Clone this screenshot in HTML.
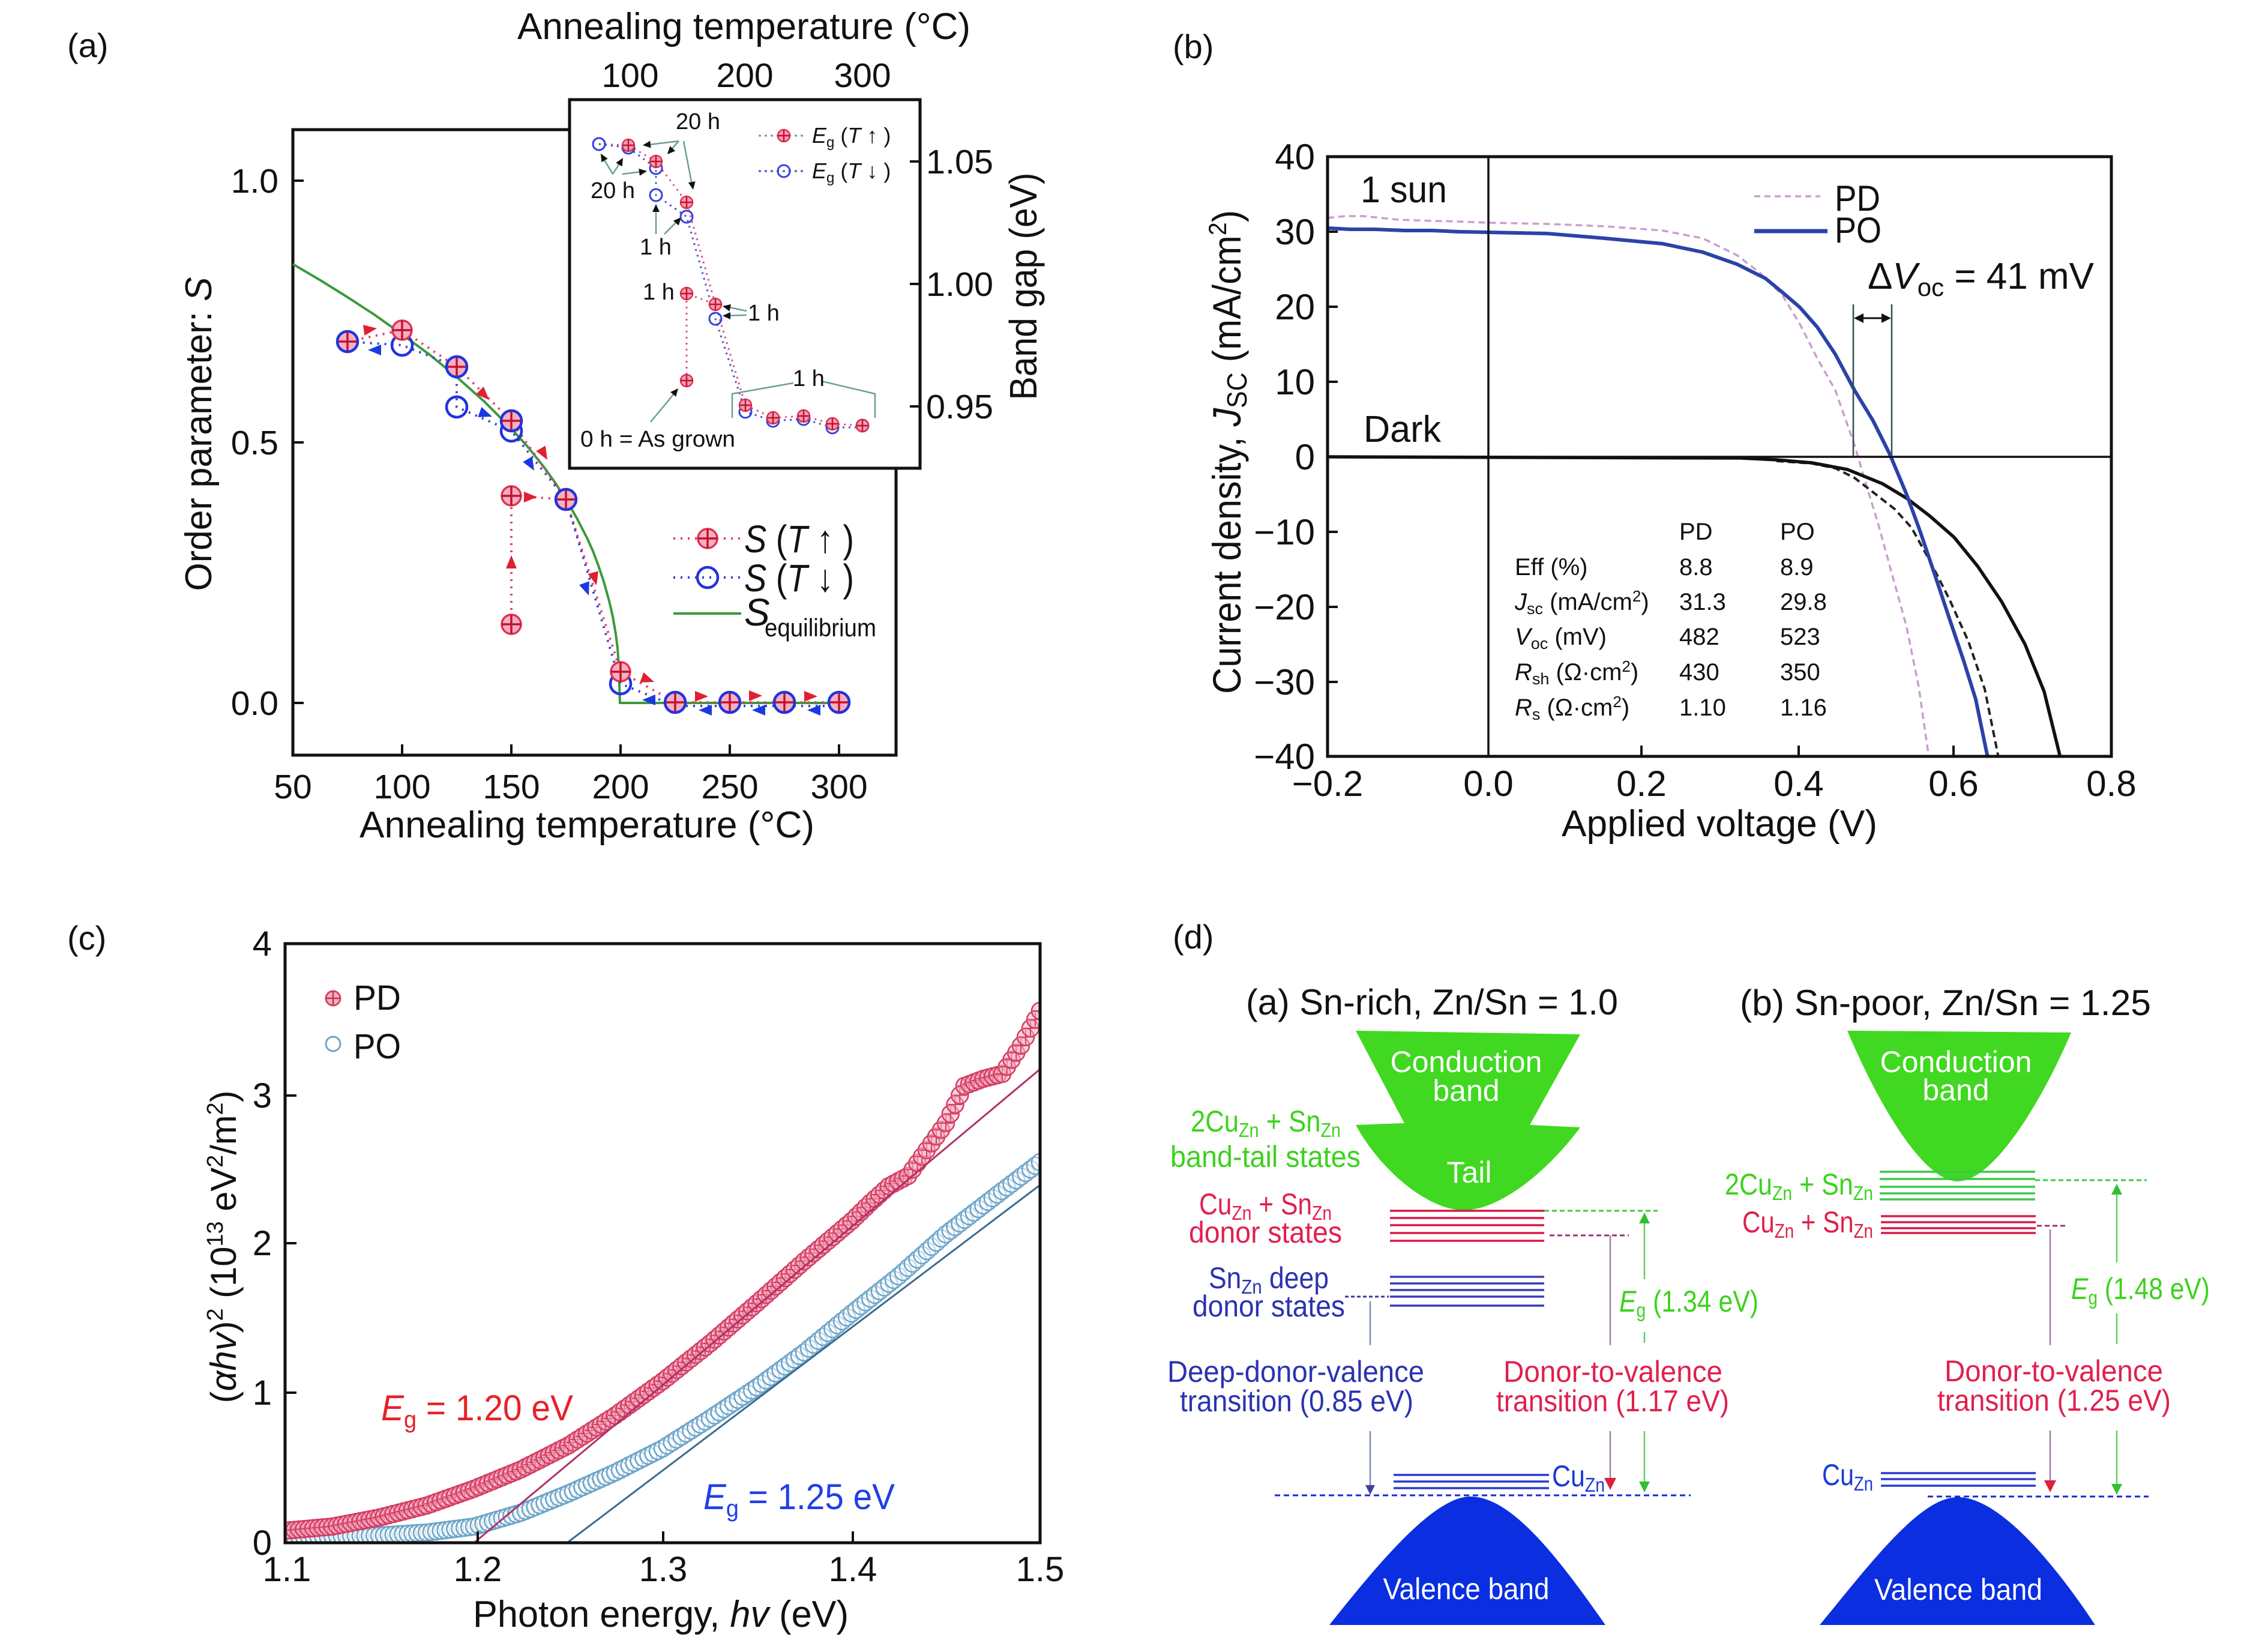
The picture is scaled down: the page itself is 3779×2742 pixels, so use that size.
<!DOCTYPE html>
<html><head><meta charset="utf-8"><style>
html,body{margin:0;padding:0;background:#fff}
svg{display:block}
text{font-family:"Liberation Sans",Arial,sans-serif;fill:#111}
.i{font-style:italic}
</style></head><body>
<svg xmlns="http://www.w3.org/2000/svg" width="3779" height="2742" viewBox="0 0 3779 2742">
<defs>
<g id="pr"><circle r="16" fill="#f5b0c0" stroke="#e03052" stroke-width="3.5"/><path d="M-16,0H16M0,-16V16" stroke="#c4102e" stroke-width="3.5"/></g>
<g id="pb"><circle r="17" fill="#f5b0c0" stroke="#2233dd" stroke-width="4.5"/><path d="M-15,0H15M0,-15V15" stroke="#c4102e" stroke-width="3.5"/></g>
<g id="bo"><circle r="17" fill="none" stroke="#2233dd" stroke-width="4.5"/></g>
<g id="prs"><circle r="10" fill="#f2a0b4" stroke="#e03052" stroke-width="2.5"/><path d="M-10,0H10M0,-10V10" stroke="#c4102e" stroke-width="2.5"/></g>
<g id="bos"><circle r="10" fill="none" stroke="#3344dd" stroke-width="3"/></g>
<path id="ar" d="M0,0 L-22,-9 L-22,9 Z"/>
<path id="sa" d="M0,0 L-13,-6 L-13,6 Z"/>
<marker id="mpd" markerUnits="userSpaceOnUse" markerWidth="34" markerHeight="34" refX="17" refY="17" overflow="visible"><circle cx="17" cy="17" r="14" fill="#f4b4c4" fill-opacity="0.55" stroke="#d43c62" stroke-width="2.5"/><path d="M5,17H29M17,5V29" stroke="#d43c62" stroke-width="2"/></marker>
<marker id="mpo" markerUnits="userSpaceOnUse" markerWidth="34" markerHeight="34" refX="17" refY="17" overflow="visible"><circle cx="17" cy="17" r="14" fill="#ffffff" fill-opacity="0.35" stroke="#6aa4c8" stroke-width="2.5"/></marker>
<clipPath id="cc"><rect x="475" y="1572" width="1258" height="998"/></clipPath>
<clipPath id="cb"><rect x="2212" y="261" width="1306" height="999"/></clipPath>
</defs>

<!-- ================= PANEL (a) ================= -->
<text x="112" y="95" font-size="56">(a)</text>
<text x="862" y="65" font-size="62" textLength="755" lengthAdjust="spacingAndGlyphs">Annealing temperature (°C)</text>
<text x="1050" y="145" font-size="57" text-anchor="middle">100</text>
<text x="1241" y="145" font-size="57" text-anchor="middle">200</text>
<text x="1437" y="145" font-size="57" text-anchor="middle">300</text>

<rect x="488" y="216" width="1005" height="1042" fill="none" stroke="#111" stroke-width="5"/>
<path d="M670,1258V1240M852,1258V1240M1034,1258V1240M1216,1258V1240M1398,1258V1240M488,301H506M488,737H506M488,1171H506" stroke="#111" stroke-width="4"/>
<text x="464" y="321" font-size="57" text-anchor="end">1.0</text>
<text x="464" y="757" font-size="57" text-anchor="end">0.5</text>
<text x="464" y="1191" font-size="57" text-anchor="end">0.0</text>
<g font-size="57" text-anchor="middle">
<text x="488" y="1330">50</text><text x="670" y="1330">100</text><text x="852" y="1330">150</text>
<text x="1034" y="1330">200</text><text x="1216" y="1330">250</text><text x="1398" y="1330">300</text>
</g>
<text x="599" y="1395" font-size="62" textLength="758" lengthAdjust="spacingAndGlyphs">Annealing temperature (°C)</text>
<text transform="translate(352,723) rotate(-90)" text-anchor="middle" font-size="62" textLength="523" lengthAdjust="spacingAndGlyphs">Order parameter: <tspan class="i">S</tspan></text>

<polyline points="488,440 534,467 579,495 625,525 670,557 716,591 761,628 807,669 852,714 880,745 907,779 925,804 943,832 961,863 979,898 988,918 997,942 1006,969 1015,1001 1021,1027 1026,1056 1029,1080 1031,1110 1033,1171 1398,1171" fill="none" stroke="#3a9a3a" stroke-width="4"/>

<polyline points="579,569 670,550 761,611 852,701 943,832 1034,1119 1125,1170 1398,1170" fill="none" stroke="#e04070" stroke-width="4" stroke-dasharray="3 9"/>
<polyline points="852,1040 852,826 943,832" fill="none" stroke="#e04070" stroke-width="4" stroke-dasharray="3 9"/>
<polyline points="1398,1176 1125,1176 1034,1139 943,832 852,718 761,678 761,611 670,575 579,569" fill="none" stroke="#3344cc" stroke-width="4" stroke-dasharray="3 9"/>

<g fill="#e02030">
<use href="#ar" transform="translate(628,547) rotate(-8)"/>
<use href="#ar" transform="translate(815,666) rotate(45)"/>
<use href="#ar" transform="translate(912,766) rotate(60)"/>
<use href="#ar" transform="translate(852,925) rotate(-90)"/>
<use href="#ar" transform="translate(895,828) rotate(0)"/>
<use href="#ar" transform="translate(994,975) rotate(75)"/>
<use href="#ar" transform="translate(1090,1136) rotate(20)"/>
<use href="#ar" transform="translate(1180,1160)"/>
<use href="#ar" transform="translate(1270,1159)"/>
<use href="#ar" transform="translate(1362,1160)"/>
</g>
<g fill="#1a3ae0">
<use href="#ar" transform="translate(613,583) rotate(180)"/>
<use href="#ar" transform="translate(820,694) rotate(20)"/>
<use href="#ar" transform="translate(890,784) rotate(60)"/>
<use href="#ar" transform="translate(981,992) rotate(70)"/>
<use href="#ar" transform="translate(1070,1166) rotate(180)"/>
<use href="#ar" transform="translate(1164,1183) rotate(180)"/>
<use href="#ar" transform="translate(1253,1183) rotate(180)"/>
<use href="#ar" transform="translate(1345,1183) rotate(180)"/>
</g>

<use href="#bo" x="670" y="575"/>
<use href="#bo" x="761" y="678"/>
<use href="#bo" x="852" y="718"/>
<use href="#bo" x="1034" y="1139"/>
<use href="#pb" x="579" y="569"/>
<use href="#pr" x="670" y="550"/>
<use href="#pb" x="761" y="611"/>
<use href="#pb" x="852" y="701"/>
<use href="#pr" x="852" y="826"/>
<use href="#pr" x="852" y="1040"/>
<use href="#pb" x="943" y="832"/>
<use href="#pr" x="1034" y="1119"/>
<use href="#pb" x="1125" y="1170"/>
<use href="#pb" x="1216" y="1170"/>
<use href="#pb" x="1307" y="1170"/>
<use href="#pb" x="1398" y="1170"/>

<line x1="1122" y1="897" x2="1235" y2="897" stroke="#e04070" stroke-width="4" stroke-dasharray="3 9"/>
<use href="#pr" x="1179" y="897"/>
<text x="1240" y="920" font-size="64" textLength="183" lengthAdjust="spacingAndGlyphs"><tspan class="i">S</tspan> (<tspan class="i">T</tspan> ↑ )</text>
<line x1="1122" y1="962" x2="1235" y2="962" stroke="#3344cc" stroke-width="4" stroke-dasharray="3 9"/>
<use href="#bo" x="1179" y="962"/>
<text x="1240" y="985" font-size="64" textLength="183" lengthAdjust="spacingAndGlyphs"><tspan class="i">S</tspan> (<tspan class="i">T</tspan> ↓ )</text>
<line x1="1122" y1="1022" x2="1235" y2="1022" stroke="#3a9a3a" stroke-width="4"/>
<text x="1240" y="1042" font-size="64" class="i">S</text>
<text x="1274" y="1060" font-size="42" textLength="186" lengthAdjust="spacingAndGlyphs">equilibrium</text>

<rect x="949" y="166" width="584" height="614" fill="#fff" stroke="#111" stroke-width="5"/>
<path d="M1533,269H1516M1533,473H1516M1533,677H1516" stroke="#111" stroke-width="4"/>
<text x="1543" y="289" font-size="57" textLength="112" lengthAdjust="spacingAndGlyphs">1.05</text>
<text x="1543" y="493" font-size="57" textLength="112" lengthAdjust="spacingAndGlyphs">1.00</text>
<text x="1543" y="697" font-size="57" textLength="112" lengthAdjust="spacingAndGlyphs">0.95</text>
<text transform="translate(1727,477) rotate(-90)" text-anchor="middle" font-size="64" textLength="379" lengthAdjust="spacingAndGlyphs">Band gap (eV)</text>

<polyline points="998,240 1047,242 1093,269 1144,337 1192,507 1242,675 1288,696 1339,693 1387,706 1437,709" fill="none" stroke="#e05080" stroke-width="3" stroke-dasharray="3 7"/>
<polyline points="1144,634 1144,489 1192,507" fill="none" stroke="#e05080" stroke-width="3" stroke-dasharray="3 7"/>
<polyline points="1437,712 1387,712 1339,698 1288,701 1242,686 1192,531 1144,361 1093,325 1093,280 1047,246 998,240" fill="none" stroke="#4455cc" stroke-width="3" stroke-dasharray="3 7"/>

<g stroke="#6a9e9a" stroke-width="2.5" fill="none">
<path d="M1131,235L1073,242M1131,235L1113,255M1139,235L1154,313"/>
<path d="M1021,290L1002,258M1021,290L1037,265M1037,290L1076,285"/>
<path d="M1093,390L1093,343M1107,390L1133,364"/>
<path d="M1244,518L1206,510M1244,525L1206,526"/>
<path d="M1220,696V656L1322,638M1369,635L1458,656V696"/>
<path d="M1084,703L1128,650"/>
</g>
<g fill="#111">
<use href="#sa" transform="translate(1071,242) rotate(173)"/>
<use href="#sa" transform="translate(1112,257) rotate(132)"/>
<use href="#sa" transform="translate(1155,316) rotate(80)"/>
<use href="#sa" transform="translate(1001,256) rotate(-120)"/>
<use href="#sa" transform="translate(1038,263) rotate(-60)"/>
<use href="#sa" transform="translate(1078,285) rotate(-8)"/>
<use href="#sa" transform="translate(1093,340) rotate(-90)"/>
<use href="#sa" transform="translate(1135,362) rotate(-48)"/>
<use href="#sa" transform="translate(1204,510) rotate(192)"/>
<use href="#sa" transform="translate(1204,526) rotate(180)"/>
<use href="#sa" transform="translate(1130,647) rotate(-50)"/>
</g>

<use href="#bos" x="998" y="240"/>
<use href="#bos" x="1047" y="246"/>
<use href="#bos" x="1093" y="280"/>
<use href="#bos" x="1093" y="325"/>
<use href="#bos" x="1144" y="361"/>
<use href="#bos" x="1192" y="531"/>
<use href="#bos" x="1242" y="686"/>
<use href="#bos" x="1288" y="701"/>
<use href="#bos" x="1339" y="698"/>
<use href="#bos" x="1387" y="712"/>
<use href="#bos" x="1437" y="709"/>
<use href="#prs" x="1047" y="242"/>
<use href="#prs" x="1093" y="269"/>
<use href="#prs" x="1144" y="337"/>
<use href="#prs" x="1144" y="489"/>
<use href="#prs" x="1144" y="634"/>
<use href="#prs" x="1192" y="507"/>
<use href="#prs" x="1242" y="675"/>
<use href="#prs" x="1288" y="696"/>
<use href="#prs" x="1339" y="693"/>
<use href="#prs" x="1387" y="706"/>
<use href="#prs" x="1437" y="709"/>
<use href="#bos" x="998" y="240"/>

<g font-size="38">
<text x="1126" y="215">20 h</text>
<text x="984" y="330">20 h</text>
<text x="1066" y="424">1 h</text>
<text x="1071" y="499">1 h</text>
<text x="1246" y="534">1 h</text>
<text x="1321" y="643">1 h</text>
<text x="967" y="744" textLength="258" lengthAdjust="spacingAndGlyphs">0 h = As grown</text>
</g>
<line x1="1264" y1="226" x2="1343" y2="226" stroke="#6a9e9a" stroke-width="3" stroke-dasharray="4 6"/>
<use href="#prs" x="1306" y="226"/>
<text x="1353" y="238" font-size="36"><tspan class="i">E</tspan><tspan font-size="24" dy="7">g</tspan><tspan dy="-7"> (</tspan><tspan class="i">T</tspan> ↑ )</text>
<line x1="1264" y1="285" x2="1343" y2="285" stroke="#4455cc" stroke-width="3" stroke-dasharray="4 6"/>
<use href="#bos" x="1306" y="285"/>
<text x="1353" y="297" font-size="36"><tspan class="i">E</tspan><tspan font-size="24" dy="7">g</tspan><tspan dy="-7"> (</tspan><tspan class="i">T</tspan> ↓ )</text>

<!-- ================= PANEL (b) ================= -->
<text x="1954" y="97" font-size="56">(b)</text>
<g clip-path="url(#cb)" fill="none">
<polyline points="2212,363 2242,360 2272,360 2330,366 2387,368 2430,369 2480,371 2578,373 2674,377 2770,384 2837,397 2894,425 2932,454 2970,492 2999,540 3028,597 3058,650 3090,741 3106,796 3129,871 3153,958 3177,1045 3197,1144 3214,1262" stroke="#c8a0cc" stroke-width="3.5" stroke-dasharray="11 7"/>
<polyline points="2960,768 3019,772 3058,780 3090,796 3121,820 3157,848 3185,879 3216,935 3248,998 3280,1069 3307,1148 3330,1262" stroke="#222" stroke-width="4" stroke-dasharray="12 7"/>
<polyline points="2212,761 2900,763 2960,766 3019,771 3078,782 3137,806 3177,830 3216,860 3256,895 3295,943 3335,1002 3374,1073 3406,1152 3433,1262" stroke="#111" stroke-width="5.5"/>
<polyline points="2212,380 2250,382 2291,382 2340,384 2387,384 2430,386 2480,387 2578,389 2674,397 2770,406 2837,420 2894,440 2942,464 2970,487 2999,512 3028,545 3058,590 3090,650 3121,701 3149,757 3177,824 3200,887 3224,958 3248,1030 3272,1101 3292,1165 3312,1262" stroke="#2b43a8" stroke-width="6"/>
</g>
<rect x="2212" y="261" width="1306" height="999" fill="none" stroke="#111" stroke-width="5"/>
<path d="M2480,261V1260M2212,761H3518" stroke="#111" stroke-width="3.5"/>
<path d="M2212,386H2229M2212,511H2229M2212,636H2229M2212,886H2229M2212,1011H2229M2212,1136H2229M2735,1260V1242M2997,1260V1242M3255,1260V1242" stroke="#111" stroke-width="4"/>
<g font-size="60" text-anchor="end">
<text x="2191" y="282">40</text><text x="2191" y="407">30</text><text x="2191" y="532">20</text>
<text x="2191" y="657">10</text><text x="2191" y="782">0</text><text x="2191" y="907">−10</text>
<text x="2191" y="1032">−20</text><text x="2191" y="1157">−30</text><text x="2191" y="1281">−40</text>
</g>
<g font-size="60" text-anchor="middle">
<text x="2212" y="1326">−0.2</text><text x="2480" y="1326">0.0</text><text x="2735" y="1326">0.2</text>
<text x="2997" y="1326">0.4</text><text x="3255" y="1326">0.6</text><text x="3518" y="1326">0.8</text>
</g>
<text x="2602" y="1393" font-size="62" textLength="526" lengthAdjust="spacingAndGlyphs">Applied voltage (V)</text>
<text transform="translate(2067,753) rotate(-90)" text-anchor="middle" font-size="66" textLength="806" lengthAdjust="spacingAndGlyphs">Current density, <tspan class="i">J</tspan><tspan font-size="46" dy="10">SC</tspan><tspan dy="-10"> (mA/cm</tspan><tspan font-size="42" dy="-24">2</tspan><tspan dy="24">)</tspan></text>
<text x="2267" y="337" font-size="62" textLength="144" lengthAdjust="spacingAndGlyphs">1 sun</text>
<text x="2272" y="736" font-size="62" textLength="129" lengthAdjust="spacingAndGlyphs">Dark</text>
<line x1="2923" y1="327" x2="3033" y2="327" stroke="#c8a0cc" stroke-width="3.5" stroke-dasharray="10 7"/>
<text x="3057" y="351" font-size="60" textLength="76" lengthAdjust="spacingAndGlyphs">PD</text>
<line x1="2923" y1="385" x2="3045" y2="385" stroke="#2b43a8" stroke-width="7"/>
<text x="3057" y="404" font-size="60" textLength="78" lengthAdjust="spacingAndGlyphs">PO</text>
<text x="3112" y="481" font-size="62">Δ<tspan class="i">V</tspan><tspan font-size="42" dy="12">oc</tspan><tspan dy="-12"> = 41 mV</tspan></text>
<path d="M3088,507V760M3152,507V760" stroke="#2f4f4f" stroke-width="2.5"/>
<path d="M3100,530H3140" stroke="#111" stroke-width="3"/>
<path d="M3089,530L3105,522L3105,538Z M3151,530L3135,522L3135,538Z" fill="#111"/>
<g font-size="40">
<text x="2798" y="899">PD</text><text x="2966" y="899">PO</text>
<text x="2524" y="958">Eff (%)</text><text x="2798" y="958">8.8</text><text x="2966" y="958">8.9</text>
<text x="2524" y="1016"><tspan class="i">J</tspan><tspan font-size="27" dy="7">sc</tspan><tspan dy="-7"> (mA/cm</tspan><tspan font-size="26" dy="-14">2</tspan><tspan dy="14">)</tspan></text><text x="2798" y="1016">31.3</text><text x="2966" y="1016">29.8</text>
<text x="2524" y="1074"><tspan class="i">V</tspan><tspan font-size="27" dy="7">oc</tspan><tspan dy="-7"> (mV)</tspan></text><text x="2798" y="1074">482</text><text x="2966" y="1074">523</text>
<text x="2524" y="1133"><tspan class="i">R</tspan><tspan font-size="27" dy="7">sh</tspan><tspan dy="-7"> (Ω·cm</tspan><tspan font-size="26" dy="-14">2</tspan><tspan dy="14">)</tspan></text><text x="2798" y="1133">430</text><text x="2966" y="1133">350</text>
<text x="2524" y="1192"><tspan class="i">R</tspan><tspan font-size="27" dy="7">s</tspan><tspan dy="-7"> (Ω·cm</tspan><tspan font-size="26" dy="-14">2</tspan><tspan dy="14">)</tspan></text><text x="2798" y="1192">1.10</text><text x="2966" y="1192">1.16</text>
</g>

<!-- ================= PANEL (c) ================= -->
<text x="112" y="1582" font-size="56">(c)</text>
<g clip-path="url(#cc)">
<path fill="none" stroke="none" marker-start="url(#mpo)" marker-mid="url(#mpo)" marker-end="url(#mpo)" d="M475,2560
l7.9,-0.1 l7.9,-0.1 l7.9,-0.1 l7.9,-0.1 l7.9,-0.1 l7.9,-0.1 l7.9,-0.1 l7.9,-0.1 l7.9,-0.1 l7.9,-0.1
l7.8,-0.1 l7.8,-0.1 l7.8,-0.1 l7.8,-0.1 l7.8,-0.1 l7.8,-0.1 l7.8,-0.1 l7.8,-0.1 l7.8,-0.1 l7.8,-0.1
l7.9,-0.5 l7.9,-0.5 l7.9,-0.5 l7.9,-0.5 l7.9,-0.5 l7.9,-0.5 l7.9,-0.5 l7.9,-0.5 l7.9,-0.5 l7.9,-0.5
l7.9,-1 l7.9,-1 l7.9,-1 l7.9,-1 l7.9,-1 l7.9,-1 l7.9,-1 l7.9,-1 l7.9,-1 l7.9,-1
l7.8,-2.3 l7.8,-2.3 l7.8,-2.3 l7.8,-2.3 l7.8,-2.3 l7.8,-2.3 l7.8,-2.3 l7.8,-2.3 l7.8,-2.3 l7.8,-2.3
l7.9,-3.2 l7.9,-3.2 l7.9,-3.2 l7.9,-3.2 l7.9,-3.2 l7.9,-3.2 l7.9,-3.2 l7.9,-3.2 l7.9,-3.2 l7.9,-3.2
l7.8,-3.5 l7.8,-3.5 l7.8,-3.5 l7.8,-3.5 l7.8,-3.5 l7.8,-3.5 l7.8,-3.5 l7.8,-3.5 l7.8,-3.5 l7.8,-3.5
l7.9,-4 l7.9,-4 l7.9,-4 l7.9,-4 l7.9,-4 l7.9,-4 l7.9,-4 l7.9,-4 l7.9,-4 l7.9,-4
l7.9,-5 l7.9,-5 l7.9,-5 l7.9,-5 l7.9,-5 l7.9,-5 l7.9,-5 l7.9,-5 l7.9,-5 l7.9,-5
l7.8,-5.2 l7.8,-5.2 l7.8,-5.2 l7.8,-5.2 l7.8,-5.2 l7.8,-5.2 l7.8,-5.2 l7.8,-5.2 l7.8,-5.2 l7.8,-5.2
l7.9,-5.8 l7.9,-5.8 l7.9,-5.8 l7.9,-5.8 l7.9,-5.8 l7.9,-5.8 l7.9,-5.8 l7.9,-5.8 l7.9,-5.8 l7.9,-5.8
l7.9,-6.5 l7.9,-6.5 l7.9,-6.5 l7.9,-6.5 l7.9,-6.5 l7.9,-6.5 l7.9,-6.5 l7.9,-6.5 l7.9,-6.5 l7.9,-6.5
l7.8,-6.2 l7.8,-6.2 l7.8,-6.2 l7.8,-6.2 l7.8,-6.2 l7.8,-6.2 l7.8,-6.2 l7.8,-6.2 l7.8,-6.2 l7.8,-6.2
l7.9,-7 l7.9,-7 l7.9,-7 l7.9,-7 l7.9,-7 l7.9,-7 l7.9,-7 l7.9,-7 l7.9,-7 l7.9,-7
l7.8,-6 l7.8,-6 l7.8,-6 l7.8,-6 l7.8,-6 l7.8,-6 l7.8,-6 l7.8,-6 l7.8,-6 l7.8,-6
l7.9,-6 l7.9,-6 l7.9,-6 l7.9,-6 l7.9,-6 l7.9,-6 l7.9,-6 l7.9,-6 l7.9,-6 l7.9,-6"/>
<path fill="none" stroke="none" marker-start="url(#mpd)" marker-mid="url(#mpd)" marker-end="url(#mpd)" d="M475,2550
l7.9,-0.7 l7.9,-0.7 l7.9,-0.7 l7.9,-0.7 l7.9,-0.7 l7.9,-0.7 l7.9,-0.7 l7.9,-0.7 l7.9,-0.7 l7.9,-0.7
l7.8,-1.5 l7.8,-1.5 l7.8,-1.5 l7.8,-1.5 l7.8,-1.5 l7.8,-1.5 l7.8,-1.5 l7.8,-1.5 l7.8,-1.5 l7.8,-1.5
l7.9,-2 l7.9,-2 l7.9,-2 l7.9,-2 l7.9,-2 l7.9,-2 l7.9,-2 l7.9,-2 l7.9,-2 l7.9,-2
l7.9,-2.8 l7.9,-2.8 l7.9,-2.8 l7.9,-2.8 l7.9,-2.8 l7.9,-2.8 l7.9,-2.8 l7.9,-2.8 l7.9,-2.8 l7.9,-2.8
l7.8,-3.2 l7.8,-3.2 l7.8,-3.2 l7.8,-3.2 l7.8,-3.2 l7.8,-3.2 l7.8,-3.2 l7.8,-3.2 l7.8,-3.2 l7.8,-3.2
l7.9,-4 l7.9,-4 l7.9,-4 l7.9,-4 l7.9,-4 l7.9,-4 l7.9,-4 l7.9,-4 l7.9,-4 l7.9,-4
l7.8,-5 l7.8,-5 l7.8,-5 l7.8,-5 l7.8,-5 l7.8,-5 l7.8,-5 l7.8,-5 l7.8,-5 l7.8,-5
l7.9,-5.7 l7.9,-5.7 l7.9,-5.7 l7.9,-5.7 l7.9,-5.7 l7.9,-5.7 l7.9,-5.7 l7.9,-5.7 l7.9,-5.7 l7.9,-5.7
l7.9,-6.3 l7.9,-6.3 l7.9,-6.3 l7.9,-6.3 l7.9,-6.3 l7.9,-6.3 l7.9,-6.3 l7.9,-6.3 l7.9,-6.3 l7.9,-6.3
l7.8,-6.7 l7.8,-6.7 l7.8,-6.7 l7.8,-6.7 l7.8,-6.7 l7.8,-6.7 l7.8,-6.7 l7.8,-6.7 l7.8,-6.7 l7.8,-6.7
l7.9,-7 l7.9,-7 l7.9,-7 l7.9,-7 l7.9,-7 l7.9,-7 l7.9,-7 l7.9,-7 l7.9,-7 l7.9,-7
l7.9,-6.7 l7.9,-6.7 l7.9,-6.7 l7.9,-6.7 l7.9,-6.7 l7.9,-6.7 l7.9,-6.7 l7.9,-6.7 l7.9,-6.7 l7.9,-6.7
l7.75,-7.5 l7.75,-7.5 l7.75,-7.5 l7.75,-7.5
l7.75,-7 l7.75,-7 l7.75,-7 l7.75,-7
l8,-4.25 l8,-4.25 l8,-4.25 l8,-4.25
l7.75,-10.75 l7.75,-10.75 l7.75,-10.75 l7.75,-10.75
l8,-11.25 l8,-11.25 l8,-11.25 l8,-11.25
l7.75,-15.5 l7.75,-15.5 l7.75,-15.5 l7.75,-15.5
l8,-3 l8,-3 l8,-3 l8,-3
l7.75,-2 l7.75,-2 l7.75,-2 l7.75,-2
l7.75,-11.75 l7.75,-11.75 l7.75,-11.75 l7.75,-11.75
l8,-14.5 l8,-14.5 l8,-14.5 l8,-14.5"/>
<line x1="790" y1="2570" x2="1733" y2="1781" stroke="#b0306a" stroke-width="3"/>
<line x1="945" y1="2570" x2="1733" y2="1974" stroke="#3a6a90" stroke-width="3"/>
</g>
<rect x="475" y="1572" width="1258" height="998" fill="none" stroke="#111" stroke-width="5"/>
<path d="M796,2570V2551M1105,2570V2551M1421,2570V2551M475,1825H494M475,2071H494M475,2320H494" stroke="#111" stroke-width="4"/>
<g font-size="58" text-anchor="end">
<text x="453" y="1592">4</text><text x="453" y="1845">3</text><text x="453" y="2091">2</text>
<text x="453" y="2340">1</text><text x="453" y="2590">0</text>
</g>
<g font-size="58" text-anchor="middle">
<text x="478" y="2634">1.1</text><text x="796" y="2634">1.2</text><text x="1105" y="2634">1.3</text>
<text x="1421" y="2634">1.4</text><text x="1733" y="2634">1.5</text>
</g>
<text x="788" y="2710" font-size="62" textLength="626" lengthAdjust="spacingAndGlyphs">Photon energy, <tspan class="i">hv</tspan> (eV)</text>
<text transform="translate(393,2077) rotate(-90)" text-anchor="middle" font-size="60" textLength="521" lengthAdjust="spacingAndGlyphs">(<tspan class="i">αhv</tspan>)<tspan font-size="38" dy="-22">2</tspan><tspan dy="22"> (10</tspan><tspan font-size="38" dy="-22">13</tspan><tspan dy="22"> eV</tspan><tspan font-size="38" dy="-22">2</tspan><tspan dy="22">/m</tspan><tspan font-size="38" dy="-22">2</tspan><tspan dy="22">)</tspan></text>
<circle cx="555" cy="1663" r="12" fill="#f3b0c0" stroke="#d64468" stroke-width="3"/>
<path d="M543,1663H567M555,1651V1675" stroke="#c8304f" stroke-width="2.5"/>
<text x="589" y="1682" font-size="58" textLength="79" lengthAdjust="spacingAndGlyphs">PD</text>
<circle cx="555" cy="1739" r="12" fill="none" stroke="#6fa6c8" stroke-width="3"/>
<text x="589" y="1763" font-size="58" textLength="79" lengthAdjust="spacingAndGlyphs">PO</text>
<text x="635" y="2366" font-size="60" style="fill:#e8202a" textLength="320" lengthAdjust="spacingAndGlyphs"><tspan class="i">E</tspan><tspan font-size="40" dy="12">g</tspan><tspan dy="-12"> = 1.20 eV</tspan></text>
<text x="1172" y="2514" font-size="60" style="fill:#1f3fe8" textLength="319" lengthAdjust="spacingAndGlyphs"><tspan class="i">E</tspan><tspan font-size="40" dy="12">g</tspan><tspan dy="-12"> = 1.25 eV</tspan></text>

<!-- ================= PANEL (d) ================= -->
<text x="1954" y="1580" font-size="56">(d)</text>
<text x="2076" y="1690" font-size="60" textLength="620" lengthAdjust="spacingAndGlyphs">(a) Sn-rich, Zn/Sn = 1.0</text>
<text x="2899" y="1691" font-size="60" textLength="685" lengthAdjust="spacingAndGlyphs">(b) Sn-poor, Zn/Sn = 1.25</text>

<path d="M2259,1717 L2633,1723 L2549,1874 L2633,1878 C2580,1950 2500,2016 2439,2016 C2380,2016 2300,1950 2259,1874 L2340,1871 Z" fill="#40d820"/>
<g font-size="50" text-anchor="middle">
<text x="2443" y="1786" style="fill:#fff">Conduction</text>
<text x="2443" y="1834" style="fill:#fff">band</text>
<text x="2448" y="1970" style="fill:#fff">Tail</text>
</g>
<g font-size="50">
<text x="1984" y="1885" style="fill:#3cd21e" textLength="250" lengthAdjust="spacingAndGlyphs">2Cu<tspan font-size="33" dy="9">Zn</tspan><tspan dy="-9"> + Sn</tspan><tspan font-size="33" dy="9">Zn</tspan></text>
<text x="1950" y="1944" style="fill:#3cd21e" textLength="317" lengthAdjust="spacingAndGlyphs">band-tail states</text>
<text x="1998" y="2023" style="fill:#e0204e" textLength="221" lengthAdjust="spacingAndGlyphs">Cu<tspan font-size="33" dy="9">Zn</tspan><tspan dy="-9"> + Sn</tspan><tspan font-size="33" dy="9">Zn</tspan></text>
<text x="1981" y="2070" style="fill:#e0204e" textLength="255" lengthAdjust="spacingAndGlyphs">donor states</text>
<text x="2014" y="2146" style="fill:#2a33b0" textLength="200" lengthAdjust="spacingAndGlyphs">Sn<tspan font-size="33" dy="9">Zn</tspan><tspan dy="-9"> deep</tspan></text>
<text x="1987" y="2193" style="fill:#2a33b0" textLength="254" lengthAdjust="spacingAndGlyphs">donor states</text>
<text x="1945" y="2302" style="fill:#2a33b0" textLength="428" lengthAdjust="spacingAndGlyphs">Deep-donor-valence</text>
<text x="1966" y="2351" style="fill:#2a33b0" textLength="389" lengthAdjust="spacingAndGlyphs">transition (0.85 eV)</text>
<text x="2505" y="2302" style="fill:#e0204e" textLength="365" lengthAdjust="spacingAndGlyphs">Donor-to-valence</text>
<text x="2493" y="2351" style="fill:#e0204e" textLength="388" lengthAdjust="spacingAndGlyphs">transition (1.17 eV)</text>
<text x="2698" y="2185" style="fill:#3cd21e" textLength="232" lengthAdjust="spacingAndGlyphs"><tspan class="i">E</tspan><tspan font-size="33" dy="9">g</tspan><tspan dy="-9"> (1.34 eV)</tspan></text>
<text x="2586" y="2476" style="fill:#1a3ad8" textLength="88" lengthAdjust="spacingAndGlyphs">Cu<tspan font-size="33" dy="9">Zn</tspan></text>
</g>
<path d="M2316,2017H2573M2316,2029H2573M2316,2041H2573M2316,2054H2573M2316,2067H2573" stroke="#d81848" stroke-width="3.5"/>
<path d="M2573,2017H2762" stroke="#40c840" stroke-width="3" stroke-dasharray="8 5"/>
<path d="M2582,2058H2714" stroke="#a03070" stroke-width="3" stroke-dasharray="8 5"/>
<path d="M2316,2127H2573M2316,2138H2573M2316,2149H2573M2316,2160H2573M2316,2175H2573" stroke="#3a3ab8" stroke-width="3.5"/>
<path d="M2241,2160H2314" stroke="#3a3a9a" stroke-width="3" stroke-dasharray="6 4"/>
<path d="M2283,2168V2241M2283,2384V2478" stroke="#8090b8" stroke-width="2.5"/>
<path d="M2283,2490L2275,2474L2291,2474Z" fill="#4040a0"/>
<path d="M2683,2058V2241M2683,2384V2468" stroke="#a080a8" stroke-width="2.5"/>
<path d="M2683,2482L2673,2462L2693,2462Z" fill="#e0203a"/>
<path d="M2740,2034V2131M2740,2219V2237M2740,2384V2470" stroke="#60d060" stroke-width="2.5"/>
<path d="M2740,2020L2731,2038L2749,2038Z M2740,2486L2731,2468L2749,2468Z" fill="#30c030"/>
<path d="M2322,2457H2581M2322,2468H2581M2322,2479H2581" stroke="#2a3ad0" stroke-width="3.5"/>
<path d="M2124,2491H2817" stroke="#1a2ad0" stroke-width="3" stroke-dasharray="9 6"/>
<path d="M2215,2707 C2300,2600 2390,2493 2450,2493 C2520,2493 2600,2600 2675,2707 Z" fill="#0a2ee0"/>
<text x="2443" y="2664" font-size="50" text-anchor="middle" style="fill:#fff" textLength="277" lengthAdjust="spacingAndGlyphs">Valence band</text>

<path d="M3078,1717 L3451,1720 C3400,1840 3320,1968 3262,1968 C3205,1968 3130,1840 3078,1717 Z" fill="#40d820"/>
<text x="3259" y="1786" font-size="50" text-anchor="middle" style="fill:#fff">Conduction</text>
<text x="3259" y="1833" font-size="50" text-anchor="middle" style="fill:#fff">band</text>
<path d="M3132,1952H3391M3132,1964H3391M3132,1977H3391M3132,1988H3391M3132,1998H3391" stroke="#3cc84a" stroke-width="3.5"/>
<path d="M3391,1966H3577" stroke="#40c840" stroke-width="3" stroke-dasharray="8 5"/>
<path d="M3134,2026H3392M3134,2036H3392M3134,2046H3392M3134,2054H3392" stroke="#d81848" stroke-width="3.5"/>
<path d="M3394,2042H3444" stroke="#a03070" stroke-width="3" stroke-dasharray="8 5"/>
<g font-size="50">
<text x="2874" y="1990" style="fill:#3cd21e" textLength="247" lengthAdjust="spacingAndGlyphs">2Cu<tspan font-size="33" dy="9">Zn</tspan><tspan dy="-9"> + Sn</tspan><tspan font-size="33" dy="9">Zn</tspan></text>
<text x="2903" y="2053" style="fill:#e0204e" textLength="218" lengthAdjust="spacingAndGlyphs">Cu<tspan font-size="33" dy="9">Zn</tspan><tspan dy="-9"> + Sn</tspan><tspan font-size="33" dy="9">Zn</tspan></text>
<text x="3451" y="2164" style="fill:#3cd21e" textLength="231" lengthAdjust="spacingAndGlyphs"><tspan class="i">E</tspan><tspan font-size="33" dy="9">g</tspan><tspan dy="-9"> (1.48 eV)</tspan></text>
<text x="3240" y="2301" style="fill:#e0204e" textLength="364" lengthAdjust="spacingAndGlyphs">Donor-to-valence</text>
<text x="3228" y="2350" style="fill:#e0204e" textLength="389" lengthAdjust="spacingAndGlyphs">transition (1.25 eV)</text>
<text x="3036" y="2474" style="fill:#1a3ad8" textLength="85" lengthAdjust="spacingAndGlyphs">Cu<tspan font-size="33" dy="9">Zn</tspan></text>
</g>
<path d="M3416,2048V2241M3416,2383V2470" stroke="#a080a8" stroke-width="2.5"/>
<path d="M3416,2486L3406,2466L3426,2466Z" fill="#e0203a"/>
<path d="M3527,1986V2103M3527,2188V2239M3527,2383V2475" stroke="#60d060" stroke-width="2.5"/>
<path d="M3527,1972L3518,1990L3536,1990Z M3527,2490L3518,2472L3536,2472Z" fill="#30c030"/>
<path d="M3134,2454H3392M3134,2464H3392M3134,2475H3392" stroke="#2a3ad0" stroke-width="3.5"/>
<path d="M3212,2493H3580" stroke="#1a2ad0" stroke-width="3" stroke-dasharray="9 6"/>
<path d="M3032,2707 C3120,2600 3200,2494 3262,2494 C3330,2494 3420,2600 3491,2707 Z" fill="#0a2ee0"/>
<text x="3263" y="2665" font-size="50" text-anchor="middle" style="fill:#fff" textLength="280" lengthAdjust="spacingAndGlyphs">Valence band</text>
</svg>
</body></html>
